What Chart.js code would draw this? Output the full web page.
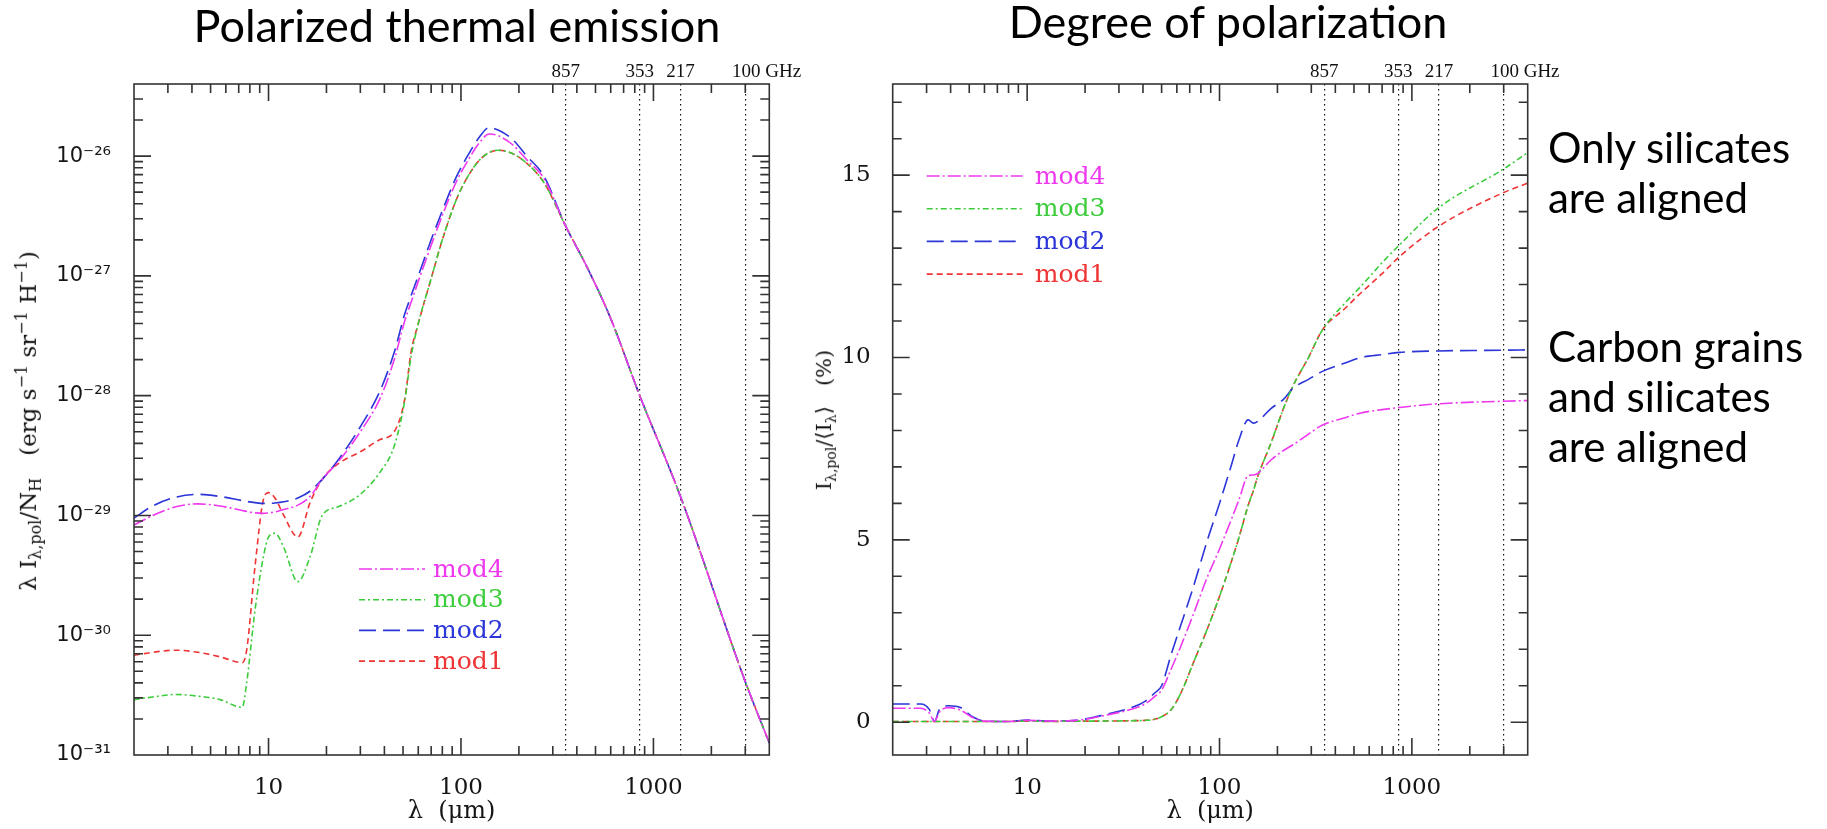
<!DOCTYPE html>
<html>
<head>
<meta charset="utf-8">
<script src="https://cdn.jsdelivr.net/npm/chart.js@4.4.1/dist/chart.umd.min.js"></script>
<style>
  html, body { margin: 0; padding: 0; background: #fff; }
  #page { position: relative; width: 1827px; height: 829px; overflow: hidden; }
  canvas { position: absolute; top: 0; }
  #emisCanvas { left: 0; }
  #polCanvas { left: 790px; }
  .title {
    position: absolute; font-family: Lato, sans-serif; font-size: 45px;
    line-height: 1; white-space: nowrap; color: #000; transform: translateX(-50%);
  }
  .note {
    position: absolute; left: 1548px; font-family: Lato, sans-serif;
    font-size: 42px; line-height: 50px; color: #000; white-space: nowrap;
  }
  .ylab {
    position: absolute; font-family: "DejaVu Serif", serif; font-size: 23px;
    line-height: 1; white-space: nowrap; color: #111;
    transform: translate(-50%, -50%) rotate(-90deg);
  }
  .ylab sub, .ylab sup { font-size: 16px; }
  .ylab.small { font-size: 21px; }
  .ylab.small sub { font-size: 14px; }
</style>
</head>
<body>
<div id="page">
  <canvas id="emisCanvas" width="860" height="829"></canvas>
  <canvas id="polCanvas" width="1037" height="829"></canvas>

  <div class="title" style="left:457px; top:3px;">Polarized thermal emission</div>
  <div class="title" style="left:1228px; top:-1px;">Degree of polarization</div>

  <div class="note" style="top:122px;">Only silicates<br>are aligned</div>
  <div class="note" style="top:321px;">Carbon grains<br>and silicates<br>are aligned</div>

  <div class="ylab" style="left:29px; top:421px;">λ I<sub>λ,pol</sub>/N<sub>H</sub>&nbsp;&nbsp;&nbsp;(erg s<sup>−1</sup> sr<sup>−1</sup> H<sup>−1</sup>)</div>
  <div class="ylab small" style="left:826px; top:420px;">I<sub>λ,pol</sub>/⟨I<sub>λ</sub>⟩&nbsp;&nbsp;&nbsp;(%)</div>
</div>

<script>
// wavelength axis (micron)
const lamMin = 2;
const lamMax = 4000;
const lamTicks = [10, 100, 1000];

// Planck bands, as wavelengths, for the top axis
const freqLam = [349.8, 849.3, 1381.5, 2997.9];
const freqLabels = ["857", "353", "217", "100 GHz"];

// left panel: lambda I_pol / N_H
const emisMin = 1e-31;
const emisMax = 4e-26;
const emisTicks = [1e-31, 1e-30, 1e-29, 1e-28, 1e-27, 1e-26];
const emisTickLabels = ["10⁻³¹", "10⁻³⁰", "10⁻²⁹", "10⁻²⁸", "10⁻²⁷", "10⁻²⁶"];

const lamEmis = [2, 2.5, 3.3, 4.3, 5.6, 7.3, 7.7, 8.5, 9.4, 10, 10.8, 12, 14.2, 16.5, 19, 23, 30, 38, 45, 51,
  55, 60, 70, 80, 95, 110, 125, 140, 156, 185, 220, 270, 350, 450, 600, 849, 1382, 3000, 4000];

const emisMod4 = [8.3e-30, 1.0e-29, 1.18e-29, 1.25e-29, 1.2e-29, 1.1e-29, 1.08e-29, 1.05e-29, 1.04e-29, 1.05e-29,
  1.07e-29, 1.12e-29, 1.22e-29, 1.45e-29, 2.0e-29, 2.8e-29, 5.0e-29, 9.5e-29, 2.0e-28, 4.2e-28,
  6.0e-28, 9.0e-28, 1.8e-27, 3.2e-27, 6.2e-27, 9.5e-27, 1.3e-26, 1.53e-26, 1.48e-26, 1.25e-26,
  9.3e-27, 6.5e-27, 2.6e-27, 1.2e-27, 4.4e-28, 1.0e-28, 1.44e-29, 4.1e-31, 1.26e-31];
const emisMod3 = [2.9e-31, 3.05e-31, 3.2e-31, 3.1e-31, 2.9e-31, 2.5e-31, 4.0e-31, 1.6e-30, 4.5e-30, 6.6e-30,
  7.1e-30, 5.4e-30, 2.8e-30, 4.6e-30, 1.0e-29, 1.18e-29, 1.5e-29, 2.3e-29, 3.8e-29, 9.0e-29,
  2.1e-28, 4.0e-28, 9.5e-28, 2.0e-27, 4.4e-27, 7.0e-27, 9.3e-27, 1.07e-26, 1.12e-26, 1.05e-26,
  8.7e-27, 6.0e-27, 2.6e-27, 1.2e-27, 4.4e-28, 1.0e-28, 1.44e-29, 4.1e-31, 1.26e-31];
const emisMod2 = [9.5e-30, 1.2e-29, 1.42e-29, 1.5e-29, 1.44e-29, 1.33e-29, 1.31e-29, 1.28e-29, 1.26e-29, 1.26e-29,
  1.27e-29, 1.3e-29, 1.4e-29, 1.6e-29, 2.0e-29, 2.9e-29, 5.5e-29, 1.1e-28, 2.3e-28, 4.8e-28,
  6.8e-28, 1.0e-27, 2.0e-27, 3.5e-27, 6.8e-27, 1.05e-26, 1.45e-26, 1.73e-26, 1.65e-26, 1.38e-26,
  1.0e-26, 6.8e-27, 2.6e-27, 1.2e-27, 4.4e-28, 1.0e-28, 1.44e-29, 4.1e-31, 1.26e-31];
const emisMod1 = [6.8e-31, 7.2e-31, 7.5e-31, 7.2e-31, 6.6e-31, 5.9e-31, 7.5e-31, 3.7e-30, 1.35e-29, 1.55e-29,
  1.4e-29, 1.0e-29, 6.6e-30, 1.3e-29, 2.0e-29, 2.7e-29, 3.4e-29, 4.3e-29, 5.0e-29, 9.3e-29,
  2.3e-28, 4.0e-28, 9.5e-28, 2.0e-27, 4.4e-27, 7.0e-27, 9.3e-27, 1.07e-26, 1.12e-26, 1.05e-26,
  8.7e-27, 6.0e-27, 2.6e-27, 1.2e-27, 4.4e-28, 1.0e-28, 1.44e-29, 4.1e-31, 1.26e-31];

// right panel: polarization fraction (%)
const polMin = -0.9;
const polMax = 17.5;
const polTicks = [0, 5, 10, 15];

const lamPol = [2, 2.8, 3.1, 3.3, 3.5, 3.9, 4.5, 5.2, 6, 8, 10, 13, 18, 25, 34, 41, 46, 50, 56, 63,
  73, 86, 100, 116, 126, 141, 150, 158, 185, 215, 240, 290, 343, 450, 543, 700, 863, 1371, 2958, 4000];

const polMod4 = [0.38, 0.38, 0.25, 0.02, 0.28, 0.40, 0.33, 0.13, 0.03, 0.02, 0.05, 0.03, 0.05, 0.18, 0.34, 0.50, 0.70, 0.88, 1.45, 2.09,
  2.95, 3.95, 4.75, 5.6, 6.09, 6.76, 6.78, 6.82, 7.19, 7.45, 7.6, 7.9, 8.15, 8.35, 8.48, 8.57, 8.63, 8.73, 8.8, 8.82];
const polMod3 = [0.02, 0.02, 0.02, 0.02, 0.02, 0.02, 0.02, 0.02, 0.02, 0.02, 0.03, 0.02, 0.03, 0.03, 0.04, 0.05, 0.08, 0.15, 0.34, 0.80,
  1.62, 2.53, 3.45, 4.45, 5.05, 5.95, 6.35, 6.74, 7.65, 8.6, 9.2, 10.0, 10.76, 11.5, 11.95, 12.6, 13.09, 14.1, 15.15, 15.62];
const polMod2 = [0.50, 0.50, 0.35, 0.02, 0.35, 0.45, 0.40, 0.15, 0.03, 0.02, 0.06, 0.03, 0.05, 0.20, 0.38, 0.57, 0.80, 1.0, 1.85, 2.67,
  3.7, 4.95, 6.0, 7.1, 7.73, 8.29, 8.2, 8.25, 8.6, 8.85, 9.15, 9.4, 9.62, 9.85, 10.0, 10.08, 10.14, 10.18, 10.2, 10.21];
const polMod1 = [0.02, 0.02, 0.02, 0.02, 0.02, 0.02, 0.02, 0.02, 0.02, 0.02, 0.03, 0.02, 0.03, 0.03, 0.04, 0.05, 0.08, 0.15, 0.34, 0.80,
  1.62, 2.53, 3.45, 4.45, 5.05, 5.95, 6.35, 6.74, 7.65, 8.6, 9.2, 10.0, 10.76, 11.35, 11.77, 12.3, 12.77, 13.59, 14.51, 14.78];

const COLORS = { mod4: "#ee38ee", mod3: "#3ccc3c", mod2: "#2b35d8", mod1: "#ee3434" };
const DASHES = { mod4: [13, 3, 2, 3], mod3: [6, 3, 2, 3], mod2: [17, 7], mod1: [6, 4] };
const INK = "#151515";

function series(label, xs, ys) {
  return {
    label,
    data: xs.map((x, i) => ({ x, y: ys[i] })),
    borderColor: COLORS[label],
    borderDash: DASHES[label],
    borderWidth: 1.6,
    pointRadius: 0,
    fill: false,
    cubicInterpolationMode: "monotone",
    xAxisID: "x",
    yAxisID: "y",
  };
}

// pin an axis box to a fixed size so the plot frame lands where it should
function fixSize(w, h) {
  return (scale) => {
    if (w != null) scale.width = w;
    if (h != null) scale.height = h;
    scale.paddingLeft = scale.paddingRight = scale.paddingTop = scale.paddingBottom = 0;
  };
}

function logMarks(min, max) {
  const out = [];
  for (let e = Math.floor(Math.log10(min)); e <= Math.ceil(Math.log10(max)); e++) {
    for (let k = 1; k <= 9; k++) {
      const v = k * Math.pow(10, e);
      if (v > min * 1.0001 && v < max * 0.9999) out.push([v, k === 1]);
    }
  }
  return out;
}

function linMarks(min, max, step, major) {
  const out = [];
  for (let v = Math.ceil(min / step) * step; v < max; v += step) {
    out.push([v, Math.abs(v / major - Math.round(v / major)) < 1e-6]);
  }
  return out;
}

// box round the plot with inward ticks on all four sides
const frameTicks = {
  id: "frameTicks",
  afterDatasetsDraw(chart, args, opts) {
    const { ctx, chartArea: a } = chart;
    const xs = chart.scales.x;
    const ys = chart.scales.y;
    ctx.save();
    ctx.strokeStyle = opts.color;
    ctx.lineWidth = opts.width;
    ctx.setLineDash([]);
    ctx.beginPath();
    logMarks(xs.min, xs.max).forEach(([v, major]) => {
      const p = xs.getPixelForValue(v);
      const len = major ? opts.major : opts.minor;
      ctx.moveTo(p, a.bottom);
      ctx.lineTo(p, a.bottom - len);
      ctx.moveTo(p, a.top);
      ctx.lineTo(p, a.top + len);
    });
    const yMarks = ys.type === "logarithmic"
      ? logMarks(ys.min, ys.max)
      : linMarks(ys.min, ys.max, opts.yStep, opts.yMajor);
    yMarks.forEach(([v, major]) => {
      const p = ys.getPixelForValue(v);
      const len = major ? opts.major : opts.minor;
      ctx.moveTo(a.left, p);
      ctx.lineTo(a.left + len, p);
      ctx.moveTo(a.right, p);
      ctx.lineTo(a.right - len, p);
    });
    ctx.stroke();
    ctx.strokeRect(a.left, a.top, a.right - a.left, a.bottom - a.top);
    ctx.restore();
  },
};

// legend drawn inside the plot, line sample + coloured name
const insideLegend = {
  id: "insideLegend",
  afterDatasetsDraw(chart, args, opts) {
    const { ctx, chartArea: a } = chart;
    ctx.save();
    ctx.font = opts.font;
    ctx.textBaseline = "middle";
    ctx.textAlign = "left";
    chart.data.datasets.forEach((ds, i) => {
      const y = a.top + opts.top + i * opts.gap;
      const x0 = a.left + opts.left;
      ctx.strokeStyle = ds.borderColor;
      ctx.lineWidth = ds.borderWidth;
      ctx.setLineDash(ds.borderDash);
      ctx.beginPath();
      ctx.moveTo(x0, y);
      ctx.lineTo(x0 + opts.lineLen, y);
      ctx.stroke();
      ctx.fillStyle = ds.borderColor;
      ctx.fillText(ds.label, x0 + opts.lineLen + opts.textGap, y + 1);
    });
    ctx.restore();
  },
};

function lambdaAxis() {
  return {
    type: "logarithmic",
    position: "bottom",
    min: lamMin,
    max: lamMax,
    afterBuildTicks: (s) => { s.ticks = lamTicks.map((v) => ({ value: v })); },
    afterFit: fixSize(null, 74),
    grid: { display: false },
    border: { display: false },
    ticks: {
      autoSkip: false, maxRotation: 0, padding: 11, color: INK,
      font: { family: "DejaVu Serif", size: 23 },
      callback: (v) => String(v),
    },
    title: {
      display: true, text: "λ  (μm)", color: INK,
      font: { family: "DejaVu Serif", size: 24 },
      padding: { top: 0, bottom: 3 },
    },
  };
}

function freqAxis() {
  return {
    type: "logarithmic",
    position: "top",
    min: lamMin,
    max: lamMax,
    afterBuildTicks: (s) => { s.ticks = freqLam.map((v) => ({ value: v })); },
    afterFit: fixSize(null, 84),
    grid: { display: true, drawOnChartArea: true, drawTicks: false, color: "#111", lineWidth: 1.2 },
    border: { display: false, dash: [1.6, 3.4] },
    ticks: {
      autoSkip: false, maxRotation: 0, padding: 1, color: "#111",
      font: { family: "Liberation Serif", size: 19 },
      // last label sits right of its line in the original
      callback: (v, i) => (i === freqLabels.length - 1 ? "         " : "") + freqLabels[i],
    },
  };
}

function baseOptions(padRight) {
  return {
    responsive: false,
    animation: false,
    devicePixelRatio: 1,
    layout: { padding: { left: 0, right: padRight, top: 0, bottom: 0 } },
  };
}

function createCharts() {
  new Chart(document.getElementById("emisCanvas"), {
    type: "line",
    data: {
      datasets: [
        series("mod4", lamEmis, emisMod4),
        series("mod3", lamEmis, emisMod3),
        series("mod2", lamEmis, emisMod2),
        series("mod1", lamEmis, emisMod1),
      ],
    },
    options: {
      ...baseOptions(90.7),
      plugins: {
        legend: { display: false },
        tooltip: { enabled: false },
        frameTicks: { color: "#333", width: 1.6, major: 17, minor: 9 },
        insideLegend: { font: "25px 'DejaVu Serif'", left: 225, top: 485, gap: 30.7, lineLen: 66, textGap: 8 },
      },
      scales: {
        x: lambdaAxis(),
        x2: freqAxis(),
        y: {
          type: "logarithmic",
          min: emisMin,
          max: emisMax,
          afterBuildTicks: (s) => { s.ticks = emisTicks.map((v) => ({ value: v })); },
          afterFit: fixSize(134, null),
          grid: { display: false },
          border: { display: false },
          ticks: {
            autoSkip: false, padding: 15, color: INK,
            font: { family: "DejaVu Sans", size: 21 },
            callback: (v, i) => emisTickLabels[i],
          },
        },
      },
    },
    plugins: [frameTicks, insideLegend],
  });

  new Chart(document.getElementById("polCanvas"), {
    type: "line",
    data: {
      datasets: [
        series("mod4", lamPol, polMod4),
        series("mod3", lamPol, polMod3),
        series("mod2", lamPol, polMod2),
        series("mod1", lamPol, polMod1),
      ],
    },
    options: {
      ...baseOptions(299.3),
      plugins: {
        legend: { display: false },
        tooltip: { enabled: false },
        frameTicks: { color: "#333", width: 1.6, major: 17, minor: 9, yStep: 1, yMajor: 5 },
        insideLegend: { font: "25px 'DejaVu Serif'", left: 34, top: 92, gap: 32.7, lineLen: 96, textGap: 12 },
      },
      scales: {
        x: lambdaAxis(),
        x2: freqAxis(),
        y: {
          type: "linear",
          min: polMin,
          max: polMax,
          afterBuildTicks: (s) => { s.ticks = polTicks.map((v) => ({ value: v })); },
          afterFit: fixSize(102.7, null),
          grid: { display: false },
          border: { display: false },
          ticks: {
            autoSkip: false, padding: 14, color: INK,
            font: { family: "DejaVu Serif", size: 23 },
            callback: (v) => String(v),
          },
        },
      },
    },
    plugins: [frameTicks, insideLegend],
  });
}

createCharts();
</script>
</body>
</html>
